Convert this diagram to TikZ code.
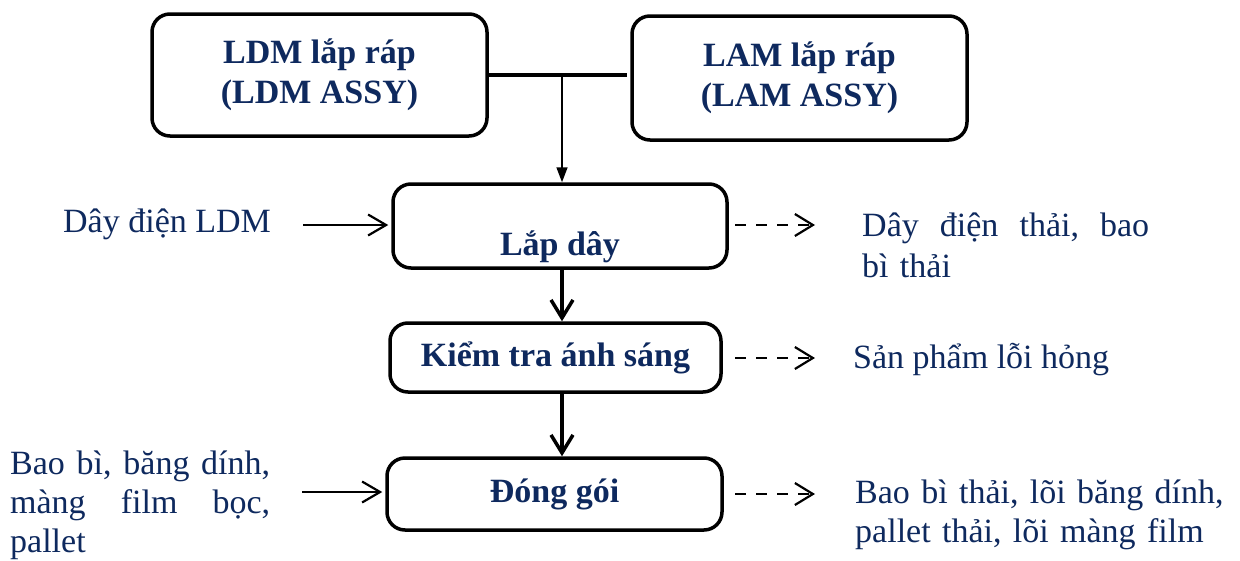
\documentclass[tikz,border=0pt]{standalone}
\usepackage{fontspec}
\setmainfont{Liberation Serif}
\usetikzlibrary{arrows.meta}
\definecolor{txt}{RGB}{14,41,94}
\newcommand{\spreadline}[2]{\leavevmode\hbox to #1{#2}}
\begin{document}
\begin{tikzpicture}[x=1pt,y=-1pt,
  box/.style={draw=black, line width=3.5pt, rounded corners=18pt, fill=white, inner sep=0pt},
  boxtext/.style={text=txt, font=\fontsize{34}{40}\selectfont\bfseries, align=center},
  plain/.style={text=txt, font=\fontsize{34}{39}\selectfont, inner sep=0pt},
  flow/.style={line width=3.5pt, -{Straight Barb[length=18pt,width=22pt]}},
  inarrow/.style={line width=2.2pt, -{Straight Barb[length=18pt,width=21pt]}},
  outarrow/.style={line width=2.2pt, dash pattern=on 11pt off 10pt, -{Straight Barb[length=18pt,width=22pt]}},
  joinline/.style={line width=3.5pt},
  droparrow/.style={line width=1.6pt, -{Triangle[length=15pt,width=11pt]}}
]
\useasboundingbox (0,0) rectangle (1240,560);

% boxes
\node[box, boxtext, minimum width=335pt, minimum height=122pt] (ldm) at (319.5,75) {LDM lắp ráp\\(LDM ASSY)};
\node[box, boxtext, minimum width=335pt, minimum height=124pt] (lam) at (799.5,78) {LAM lắp ráp\\(LAM ASSY)};
\node[box, minimum width=334pt, minimum height=84pt] (lapday) at (560,226) {};
\node[boxtext, anchor=base] (lapdayt) at (560,255) {Lắp dây};
\node[box, boxtext, minimum width=331pt, minimum height=69pt] (kiemtra) at (555.5,357.5) {Kiểm tra ánh sáng};
\node[box, boxtext, minimum width=335pt, minimum height=72pt] (donggoi) at (554.5,494) {Đóng gói};

% top join
\coordinate (j) at (562,75);
\coordinate (jr) at (627,75);
\draw[joinline] (ldm.east) -- (jr);
\draw[droparrow] (j) -- (j |- lapday.north);

% main flow
\draw[flow] (j |- lapday.south) -- (j |- kiemtra.north);
\draw[flow] (j |- kiemtra.south) -- (j |- donggoi.north);

% inputs
\node[plain, anchor=base west] (in1) at (63,232) {Dây điện LDM};
\coordinate (a1) at (303,225);
\draw[inarrow] (a1) -- ([xshift=-3pt]a1 -| lapday.west);

\node[plain, anchor=base west, text width=262pt, align=left] (in2) at (10,474)
  {\spreadline{260pt}{Bao\hfill bì,\hfill băng\hfill dính,}\\\spreadline{260pt}{màng\hfill film\hfill bọc,}\\pallet};
\coordinate (a2) at (302,492);
\draw[inarrow] (a2) -- ([xshift=-3pt]a2 -| donggoi.west);

% outputs
\coordinate (o1) at (735,225);
\coordinate (o1e) at (815,225);
\draw[outarrow] (o1) -- (o1e);
\node[plain, anchor=base west, text width=290pt, align=left] (out1) at (862,236)
  {\spreadline{287pt}{Dây\hfill điện\hfill thải,\hfill bao}\\[2pt]bì thải};

\coordinate (o2) at (735,358);
\coordinate (o2e) at (815,358);
\draw[outarrow] (o2) -- (o2e);
\node[plain, anchor=base west] (out2) at (853,368) {Sản phẩm lỗi hỏng};

\coordinate (o3) at (735,494);
\coordinate (o3e) at (815,494);
\draw[outarrow] (o3) -- (o3e);
\node[plain, anchor=base west, text width=380pt, align=left] (out3) at (855,503)
  {Bao bì thải, lõi băng dính,\\pallet thải, lõi màng film};
\end{tikzpicture}
\end{document}
